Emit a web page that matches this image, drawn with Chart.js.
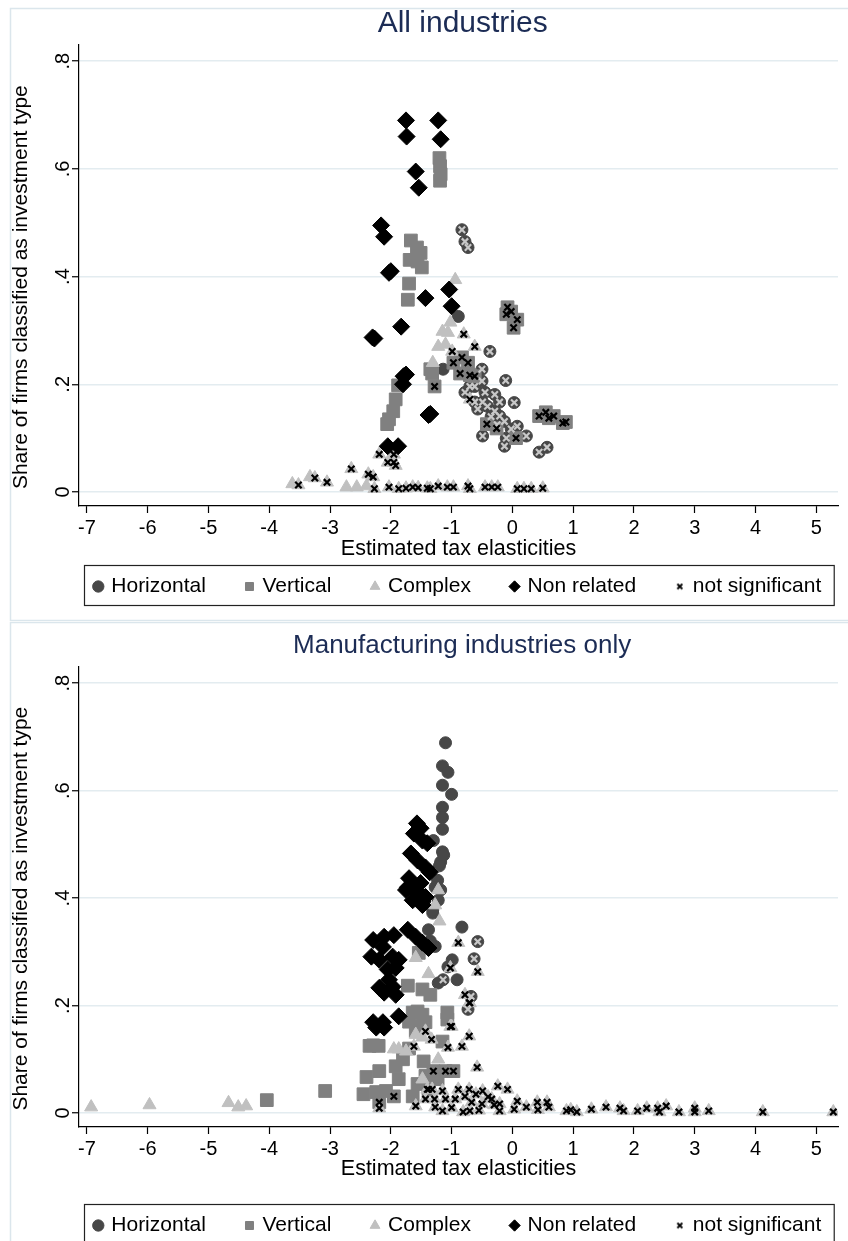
<!DOCTYPE html>
<html>
<head>
<meta charset="utf-8">
<script src="https://cdn.jsdelivr.net/npm/chart.js"></script>
<style>
  html, body { margin: 0; background: #fff; overflow: hidden; }
  canvas { display: block; }
</style>
</head>
<body>
<canvas id="allChart" width="848" height="622"></canvas>
<canvas id="mfgChart" width="848" height="626"></canvas>
<script>
// each point: [estimated tax elasticity, share of firms, significant (1) / not significant (0)]
const allHorizontal = [
  [-0.83,0.487,0],[-0.78,0.465,0],[-0.73,0.454,0],
  [-0.89,0.326,1],[-1.14,0.228,1],
  [-0.37,0.261,0],[-0.5,0.228,0],[-0.11,0.207,0],[0.03,0.166,0],
  [-0.70,0.196,0],[-0.62,0.196,0],[-0.5,0.206,0],[-0.45,0.185,0],[-0.49,0.167,0],
  [-0.29,0.181,0],[-0.41,0.159,0],[-0.21,0.167,0],[-0.29,0.15,0],[-0.21,0.141,0],
  [-0.13,0.131,0],[-0.02,0.117,0],[0.08,0.122,0],[0.23,0.104,0],[-0.49,0.104,0],
  [-0.13,0.085,0],[0.44,0.074,0],[0.57,0.083,0],[-0.78,0.185,0],[-0.62,0.167,0],
  [-0.57,0.154,0],[-0.35,0.14,0],[-0.25,0.125,0],[-0.1,0.1,0]
];
const allVertical = [
  [-1.2,0.62,1],[-1.19,0.605,1],[-1.18,0.59,1],[-1.19,0.578,1],
  [-1.67,0.467,1],[-1.57,0.454,1],[-1.51,0.444,1],[-1.69,0.431,1],[-1.56,0.428,1],
  [-1.49,0.417,1],[-1.7,0.387,1],[-1.72,0.357,1],
  [-1.88,0.198,1],[-1.92,0.172,1],[-1.96,0.15,1],[-2.03,0.135,1],[-2.06,0.126,1],
  [-1.35,0.228,1],[-1.32,0.22,1],[-1.28,0.196,0],
  [-0.08,0.343,0],[-0.02,0.335,0],[-0.1,0.33,0],[0.08,0.32,0],[0.02,0.305,0],
  [0.44,0.141,0],[0.55,0.148,0],[0.6,0.137,0],[0.68,0.141,0],[0.83,0.128,0],[0.88,0.13,0],
  [-0.97,0.24,0],[-0.83,0.25,0],[-0.73,0.24,0],[-0.86,0.22,0],[-0.70,0.217,0],[-0.62,0.215,0],
  [-0.42,0.126,0],[-0.26,0.118,0],[0.06,0.1,0]
];
const allComplex = [
  [-0.94,0.394,1],[-1.02,0.315,1],[-1.15,0.298,1],[-1.06,0.296,1],[-1.22,0.27,1],
  [-1.1,0.274,1],[-1.31,0.24,1],
  [-0.8,0.293,0],[-0.62,0.27,0],[-0.99,0.261,0],[-0.7,0.172,0],
  [-3.62,0.015,1],[-3.52,0.013,0],[-3.33,0.028,1],[-3.25,0.026,0],[-3.05,0.018,0],
  [-2.65,0.043,0],[-2.37,0.033,0],[-2.29,0.028,0],[-2.73,0.009,1],[-2.56,0.009,1],
  [-2.4,0.011,1],[-2.27,0.006,0],[-2.03,0.009,0],[-2.05,0.055,0],[-1.95,0.055,0],
  [-1.92,0.049,0],[-1.95,0.07,0],[-2.19,0.07,0],[-1.87,0.006,0],[-1.75,0.007,0],
  [-1.64,0.009,0],[-1.55,0.008,0],[-1.4,0.007,0],[-1.35,0.006,0],[-1.22,0.011,0],
  [-1.07,0.009,0],[-0.97,0.009,0],[-0.73,0.011,0],[-0.70,0.006,0],[-0.45,0.009,0],
  [-0.34,0.009,0],[-0.24,0.009,0],[0.08,0.006,0],[0.19,0.006,0],[0.31,0.006,0],[0.5,0.007,0]
];
const allNonRelated = [
  [-1.75,0.69,1],[-1.74,0.66,1],[-1.22,0.69,1],[-1.18,0.655,1],
  [-1.59,0.595,1],[-1.54,0.565,1],
  [-2.16,0.495,1],[-2.11,0.474,1],[-2.03,0.407,1],[-2.0,0.41,1],
  [-2.3,0.287,1],[-2.27,0.285,1],[-1.83,0.307,1],[-1.43,0.36,1],
  [-1.04,0.376,1],[-1.0,0.345,1],
  [-1.79,0.215,1],[-1.75,0.218,1],[-1.8,0.2,1],
  [-1.35,0.145,1],[-1.38,0.143,1],
  [-2.05,0.085,1],[-1.88,0.085,1]
];

const mfgHorizontal = [
  [-1.1,0.689,1],[-1.15,0.646,1],[-1.06,0.634,1],[-1.15,0.61,1],[-1.0,0.593,1],
  [-1.15,0.569,1],[-1.15,0.55,1],[-1.15,0.528,1],[-1.3,0.507,1],[-1.15,0.486,1],
  [-1.18,0.467,1],[-1.2,0.46,1],[-1.13,0.48,1],[-1.23,0.433,1],[-1.18,0.415,1],
  [-1.22,0.396,1],[-1.31,0.372,1],[-1.27,0.42,1],[-1.31,0.378,1],[-1.38,0.341,1],
  [-0.83,0.346,1],[-0.99,0.285,1],[-1.06,0.272,1],[-1.22,0.242,1],[-0.91,0.248,1],
  [-1.27,0.31,1],[-1.35,0.32,1],
  [-0.57,0.319,0],[-0.63,0.287,0],[-1.14,0.248,0],[-0.68,0.217,0],[-0.73,0.193,0]
];
const mfgVertical = [
  [-4.04,0.024,1],[-3.08,0.041,1],
  [-1.72,0.237,1],[-1.54,0.298,1],[-1.48,0.23,1],[-1.35,0.22,1],[-1.56,0.189,1],
  [-1.48,0.183,1],[-1.64,0.187,1],[-1.07,0.187,1],[-1.7,0.17,1],[-1.43,0.169,1],
  [-1.56,0.161,1],[-1.07,0.174,1],
  [-2.29,0.126,1],[-2.35,0.125,1],[-2.2,0.125,1],[-1.59,0.152,1],[-2.19,0.078,1],
  [-2.4,0.067,1],[-1.92,0.087,1],[-1.87,0.063,1],[-2.45,0.035,1],[-2.24,0.039,1],
  [-2.08,0.041,1],[-1.64,0.031,1],[-1.46,0.096,1],[-1.43,0.069,1],[-1.56,0.054,1],
  [-1.23,0.063,1],[-1.15,0.133,1],[-1.8,0.1,1],[-1.7,0.12,1],
  [-2.19,0.02,0],[-1.95,0.031,0],[-1.1,0.078,0],[-0.97,0.078,0],[-1.3,0.078,0],[-1.38,0.044,0]
];
const mfgComplex = [
  [-6.93,0.011,1],[-5.97,0.015,1],[-4.67,0.019,1],[-4.51,0.011,1],[-4.38,0.013,1],
  [-1.87,0.119,1],[-1.75,0.115,1],[-1.95,0.119,1],[-1.59,0.146,1],[-1.48,0.141,1],
  [-1.22,0.1,1],[-1.48,0.063,1],
  [-1.22,0.415,1],[-1.27,0.387,1],[-1.2,0.357,1],[-1.59,0.289,1],[-1.38,0.259,1],
  [-1.62,0.124,0],[-1.43,0.152,0],[-1.33,0.137,0],[-1.0,0.161,0],[-0.71,0.143,0],
  [-1.06,0.122,0],[-0.83,0.124,0],[-0.58,0.085,0],[-0.71,0.205,0],
  [-1.02,0.27,0],[-0.89,0.317,0],[-0.57,0.263,0],[-0.78,0.22,0],[-0.7,0.205,0],[-1.02,0.161,0],
  [-1.4,0.044,0],[-1.32,0.044,0],[-1.15,0.041,0],[-0.89,0.044,0],[-0.71,0.044,0],
  [-0.49,0.041,0],[-0.24,0.05,0],[-0.08,0.044,0],[-1.43,0.026,0],[-1.28,0.026,0],
  [-1.1,0.026,0],[-0.94,0.026,0],[-0.78,0.031,0],[-0.67,0.02,0],[-0.5,0.017,0],
  [-0.34,0.026,0],[-0.21,0.017,0],[0.08,0.022,0],[0.23,0.011,0],[0.41,0.02,0],
  [-1.59,0.013,0],[-1.27,0.011,0],[-1.15,0.004,0],[-0.81,0.002,0],[-0.7,0.004,0],
  [-0.21,0.004,0],[0.03,0.007,0],[-2.19,0.009,0],[-0.6,0.035,0],[-0.4,0.03,0],
  [-0.3,0.015,0],[-1.0,0.01,0],[-0.55,0.005,0],
  [0.42,0.006,0],[0.57,0.02,0],[0.6,0.011,0],[0.89,0.004,0],[0.96,0.006,0],
  [1.06,0.002,0],[1.3,0.007,0],[1.54,0.011,0],[1.77,0.009,0],[1.83,0.004,0],
  [2.06,0.004,0],[2.21,0.009,0],[2.39,0.009,0],[2.42,0.002,0],[2.53,0.013,0],
  [2.74,0.002,0],[3.0,0.009,0],[3.0,0.002,0],[3.23,0.004,0],[4.12,0.002,0],[5.28,0.002,0]
];
const mfgNonRelated = [
  [-1.57,0.539,1],[-1.51,0.53,1],[-1.62,0.52,1],[-1.48,0.507,1],[-1.4,0.502,1],
  [-1.67,0.483,1],[-1.56,0.47,1],[-1.43,0.457,1],[-1.36,0.448,1],[-1.7,0.437,1],
  [-1.51,0.428,1],[-1.75,0.415,1],[-1.59,0.411,1],[-1.43,0.402,1],[-1.64,0.396,1],
  [-1.48,0.387,1],[-1.72,0.42,1],[-1.54,0.409,1],[-1.48,0.393,1],
  [-2.29,0.322,1],[-2.11,0.328,1],[-1.95,0.331,1],[-1.72,0.341,1],[-1.59,0.328,1],
  [-1.48,0.317,1],[-1.38,0.307,1],[-2.32,0.291,1],[-2.13,0.309,1],[-2.19,0.285,1],
  [-1.97,0.291,1],[-1.87,0.285,1],[-2.05,0.267,1],[-1.92,0.27,1],[-2.03,0.248,1],
  [-2.19,0.233,1],[-1.97,0.235,1],[-2.11,0.224,1],[-1.92,0.22,1],[-1.87,0.18,1],
  [-2.29,0.169,1],[-2.13,0.169,1],[-2.24,0.159,1],[-2.11,0.159,1]
];

const typeNames = ['Horizontal', 'Vertical', 'Complex', 'Non related', 'not significant'];
const xTicks = [-7, -6, -5, -4, -3, -2, -1, 0, 1, 2, 3, 4, 5];
const yTicks = [0, 0.2, 0.4, 0.6, 0.8];
const yTickLabels = ['0', '.2', '.4', '.6', '.8'];

const FONT = '"Liberation Sans", Arial, Helvetica, sans-serif';
Chart.defaults.font.family = FONT;
Chart.defaults.color = '#000';

const markers = [
  {style: 'circle', color: '#474747', radius: 6},
  {style: 'rect', color: '#808080', radius: 9},
  {style: 'triangle', color: '#c0c0c0', radius: 7.5},
  {style: 'rectRot', color: '#000000', radius: 8.5}
];

// little x for the legend (the dataset one is drawn bigger)
const legendX = document.createElement('canvas');
legendX.width = 8; legendX.height = 8;
(function () {
  const c = legendX.getContext('2d');
  c.strokeStyle = '#000'; c.lineWidth = 1.8;
  c.beginPath();
  c.moveTo(1.5, 1.5); c.lineTo(6.5, 6.5);
  c.moveTo(6.5, 1.5); c.lineTo(1.5, 6.5);
  c.stroke();
})();

const framePlugin = {
  id: 'frame',
  beforeDraw(chart, args, opts) {
    const ctx = chart.ctx;
    ctx.save();
    ctx.fillStyle = '#fff';
    ctx.fillRect(0, 0, chart.width, chart.height);
    ctx.strokeStyle = '#dbe6ec';
    ctx.lineWidth = 1.5;
    ctx.strokeRect(10.5, opts.top + 0.5, chart.width, chart.height - opts.top - 2);
    ctx.restore();
  },
  afterDraw(chart) {
    const lg = chart.legend;
    const boxes = lg.legendHitBoxes;
    if (!boxes || !boxes.length) return;
    const first = boxes[0], last = boxes[boxes.length - 1];
    const ctx = chart.ctx;
    ctx.save();
    ctx.strokeStyle = '#222';
    ctx.lineWidth = 1.2;
    const l = Math.round(first.left - 12) + 0.5;
    const r = Math.min(chart.width - 1.5, last.left + last.width + 13);
    ctx.strokeRect(l, lg.top + 1.5, r - l, lg.height - 3);
    ctx.restore();
  }
};

function toXY(p) { return {x: p[0], y: p[1]}; }

function makePanel(id, title, titleSize, series, frameTop, padBottom, xAxisHeight, xTitlePad) {
  const datasets = series.map((pts, i) => ({
    label: typeNames[i],
    data: pts.map(toXY),
    pointStyle: markers[i].style,
    pointRadius: markers[i].radius,
    pointHoverRadius: markers[i].radius,
    backgroundColor: markers[i].color,
    borderColor: markers[i].color,
    borderWidth: 1,
    order: 5 - i
  }));
  // not significant: black x on squares, triangles, diamonds
  datasets.push({
    label: typeNames[4],
    data: series.slice(1).flat().filter(p => !p[2]).map(toXY),
    pointStyle: 'crossRot',
    pointRadius: 4.5,
    backgroundColor: '#000',
    borderColor: '#000',
    borderWidth: 2.2,
    order: 0
  });
  // not significant on the dark circles shows up light
  datasets.push({
    label: 'ns-horizontal',
    data: series[0].filter(p => !p[2]).map(toXY),
    pointStyle: 'crossRot',
    pointRadius: 4.5,
    backgroundColor: '#c8c8c8',
    borderColor: '#c8c8c8',
    borderWidth: 2.2,
    order: 1
  });

  return new Chart(document.getElementById(id), {
    type: 'scatter',
    data: {datasets},
    options: {
      responsive: false,
      animation: false,
      layout: {padding: {left: 0, right: 0, top: 0, bottom: padBottom}},
      plugins: {
        frame: {top: frameTop},
        tooltip: {enabled: false},
        title: {
          display: true, text: ' ' + title, fullSize: false,
          font: {size: titleSize, weight: 'normal'}, color: '#1c2c55',
          padding: {top: 6 + (30 - titleSize) / 2, bottom: 3 + (30 - titleSize) * 0.7}
        },
        legend: {
          position: 'bottom', fullSize: false,
          labels: {
            usePointStyle: true, boxWidth: 5, boxHeight: 8, padding: 12,
            font: {size: 21}, color: '#000',
            filter: item => item.datasetIndex < 5,
            sort: (a, b) => a.datasetIndex - b.datasetIndex,
            generateLabels(chart) {
              const items = Chart.defaults.plugins.legend.labels.generateLabels(chart);
              items.forEach(it => {
                if (it.datasetIndex < 4) it.text += '     ';
                if (it.datasetIndex === 4) it.pointStyle = legendX;
              });
              return items;
            }
          }
        }
      },
      scales: {
        x: {
          type: 'linear', min: -7.13, max: 5.357,
          afterBuildTicks: s => { s.ticks = xTicks.map(v => ({value: v})); },
          afterFit: s => { s.height = xAxisHeight; },
          ticks: {font: {size: 20}, color: '#000', padding: 3, maxRotation: 0, autoSkip: false,
                  callback: v => String(v)},
          grid: {drawOnChartArea: false, tickLength: 7, tickColor: '#000', tickWidth: 1.2},
          border: {color: '#000', width: 1.2},
          title: {display: true, text: 'Estimated tax elasticities', font: {size: 21.5},
                  color: '#000', padding: {top: 0, bottom: xTitlePad}}
        },
        y: {
          type: 'linear', min: -0.026, max: 0.83,
          afterBuildTicks: s => { s.ticks = yTicks.map(v => ({value: v})); },
          afterFit: s => { s.width = 79; },
          ticks: {font: {size: 20}, color: '#000', padding: 0, minRotation: 90, maxRotation: 90,
                  crossAlign: 'center', autoSkip: false,
                  callback: v => yTickLabels[yTicks.indexOf(v)]},
          grid: {color: '#e3ecf0', lineWidth: 1.5, tickLength: 7, tickColor: '#000', tickWidth: 1.2},
          border: {color: '#000', width: 1.2},
          title: {display: true, text: 'Share of firms classified as investment type    ',
                  font: {size: 21}, color: '#000', padding: {top: 9, bottom: 0}}
        }
      }
    },
    plugins: [framePlugin]
  });
}

makePanel('allChart', 'All industries', 30,
  [allHorizontal, allVertical, allComplex, allNonRelated], 8, 15, 58, 2);
makePanel('mfgChart', 'Manufacturing industries only', 26,
  [mfgHorizontal, mfgVertical, mfgComplex, mfgNonRelated], 0, 2, 76, 21);
</script>
</body>
</html>
